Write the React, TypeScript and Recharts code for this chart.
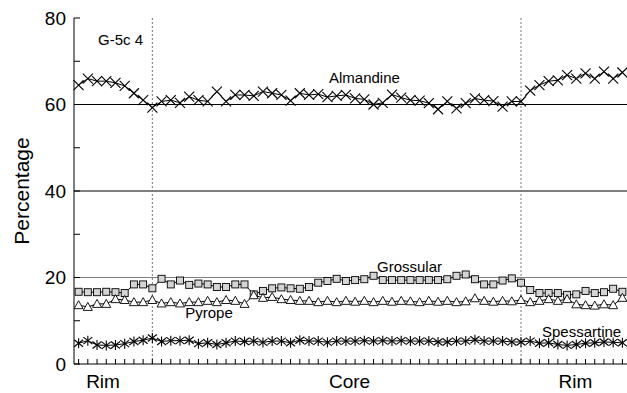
import React from 'react'
import { LineChart, Line, XAxis, YAxis, ReferenceLine } from 'recharts'

// garnet zoning profile, one value per analysis spot (rim -> core -> rim)
const almandine = [
  64.5, 66.0, 65.4, 65.4, 65.0, 64.3, 62.6, 61.0, 59.3, 60.7,
  61.0, 60.4, 61.8, 61.0, 60.7, 63.0, 60.7, 62.2, 62.2, 62.0,
  63.0, 62.6, 62.2, 60.9, 62.6, 62.2, 62.4, 61.7, 62.0, 62.2,
  61.4, 61.2, 60.0, 60.4, 62.3, 61.6, 61.0, 60.9, 60.3, 58.9,
  60.7, 59.1, 60.3, 61.4, 61.0, 60.8, 59.5, 60.7, 60.7, 63.2,
  64.5, 65.4, 65.6, 66.8, 66.0, 67.2, 66.0, 67.6, 66.0, 67.4,
]
const grossular = [
  16.7, 16.6, 16.6, 16.7, 16.6, 16.4, 18.4, 18.4, 17.5, 19.7,
  18.4, 19.3, 18.3, 18.6, 18.4, 17.8, 17.8, 18.4, 18.4, 16.1,
  16.9, 17.5, 17.7, 17.5, 17.4, 17.8, 18.8, 19.2, 19.7, 19.2,
  19.4, 19.6, 20.4, 19.4, 19.4, 19.4, 19.4, 19.4, 19.4, 19.4,
  19.6, 20.4, 20.7, 19.6, 18.4, 18.4, 19.3, 19.8, 18.8, 17.1,
  16.4, 16.4, 16.4, 16.0, 16.1, 16.9, 16.4, 16.6, 17.4, 16.7,
]
const pyrope = [
  13.6, 13.2, 13.9, 13.9, 15.0, 14.8, 14.3, 14.3, 14.8, 14.0,
  14.3, 14.0, 14.3, 14.3, 14.6, 14.3, 14.8, 14.6, 13.9, 15.9,
  15.3, 15.5, 15.0, 14.8, 14.6, 14.6, 14.3, 14.6, 14.3, 14.6,
  14.4, 14.6, 14.3, 14.6, 14.4, 14.6, 14.5, 14.3, 14.6, 14.4,
  14.6, 14.3, 14.5, 15.2, 14.6, 14.4, 14.6, 14.5, 14.8, 14.3,
  14.6, 15.0, 14.6, 15.0, 13.8, 13.6, 13.5, 13.8, 13.6, 15.3,
]
const spessartine = [
  4.8, 5.4, 4.4, 4.3, 4.4, 4.7, 5.2, 5.5, 6.0, 5.2,
  5.4, 5.4, 5.5, 4.7, 4.9, 4.5, 4.9, 5.3, 5.2, 5.3,
  5.0, 5.3, 5.3, 4.9, 5.5, 5.3, 5.3, 5.0, 5.3, 5.3,
  5.3, 5.4, 5.3, 5.4, 5.3, 5.4, 5.3, 5.3, 5.3, 5.1,
  5.1, 5.3, 5.3, 5.6, 5.3, 5.3, 5.3, 5.1, 5.1, 5.3,
  4.8, 4.9, 4.5, 4.3, 4.5, 4.8, 4.9, 5.1, 5.0, 4.9,
]

const yTicks = [0, 10, 20, 30, 40, 50, 60, 70, 80]
const yLabelTicks = [0, 20, 40, 60, 80]
const gridLevels = [20, 40, 60]
const zoneBounds = [8, 48]
const zoneLabels = ['Rim', 'Core', 'Rim']
const zoneLabelAt = [2.65, 29.4, 53.9]

const data = almandine.map((a, i) => ({
  step: i,
  almandine: a,
  grossular: grossular[i],
  pyrope: pyrope[i],
  spessartine: spessartine[i],
}))
const xTicks = [...data.map((d) => d.step), ...zoneLabelAt]

const FONT = '"Liberation Sans", Arial, Helvetica, sans-serif'

const XTick = ({ x, y, payload }: any) => {
  const zi = zoneLabelAt.indexOf(payload.value)
  if (zi >= 0) {
    return (
      <text x={x} y={y + 24} textAnchor="middle" fontSize={19} fontFamily={FONT} fill="#000">
        {zoneLabels[zi]}
      </text>
    )
  }
  return <line x1={x} x2={x} y1={y} y2={y - 5} stroke="#000" strokeWidth={1} />
}

const YTick = ({ x, y, payload }: any) => (
  <g>
    <line x1={x} x2={x + 6} y1={y} y2={y} stroke="#000" strokeWidth={1} />
    {yLabelTicks.includes(payload.value) && (
      <text x={x - 8} y={y} dy="0.36em" textAnchor="end" fontSize={19} fontFamily={FONT} fill="#000">
        {payload.value}
      </text>
    )}
  </g>
)

const CrossDot = ({ cx, cy, index }: any) => (
  <g key={`alm-${index}`}>
    <line x1={cx - 5} y1={cy - 5} x2={cx + 5} y2={cy + 5} stroke="#000" strokeWidth={1.1} />
    <line x1={cx - 5} y1={cy + 5} x2={cx + 5} y2={cy - 5} stroke="#000" strokeWidth={1.1} />
  </g>
)

const SquareDot = ({ cx, cy, index }: any) => (
  <rect key={`gro-${index}`} x={cx - 3.5} y={cy - 3.5} width={7} height={7} fill="#d4d4d4" stroke="#000" strokeWidth={0.9} />
)

const TriangleDot = ({ cx, cy, index }: any) => (
  <path
    key={`pyr-${index}`}
    d={`M${cx},${cy - 4.5} L${cx + 4.5},${cy + 3.5} L${cx - 4.5},${cy + 3.5} Z`}
    fill="#fff"
    stroke="#000"
    strokeWidth={0.9}
  />
)

const StarDot = ({ cx, cy, index }: any) => (
  <g key={`spe-${index}`} stroke="#000" strokeWidth={1.1}>
    <line x1={cx - 4.5} y1={cy - 3.5} x2={cx + 4.5} y2={cy + 3.5} />
    <line x1={cx - 4.5} y1={cy + 3.5} x2={cx + 4.5} y2={cy - 3.5} />
    <line x1={cx} y1={cy - 5} x2={cx} y2={cy + 5} />
  </g>
)

export default function App() {
  return (
    <div style={{ position: 'relative', width: 627, height: 393, background: '#fff' }}>
      <style>{'body{margin:0}'}</style>
      <LineChart width={627} height={393} data={data} margin={{ top: 18, right: 0, bottom: 0, left: 0 }}>
        <XAxis
          dataKey="step"
          type="number"
          domain={[-0.5, 59.5]}
          ticks={xTicks}
          interval={0}
          height={29}
          tickSize={0}
          tickMargin={0}
          tick={<XTick />}
          axisLine={{ stroke: '#000', strokeWidth: 1 }}
          tickLine={false}
        />
        <YAxis
          type="number"
          domain={[0, 80]}
          ticks={yTicks}
          interval={0}
          width={74}
          tickSize={0}
          tickMargin={0}
          tick={<YTick />}
          axisLine={{ stroke: '#000', strokeWidth: 1 }}
          tickLine={false}
        />
        {gridLevels.map((g) => (
          <ReferenceLine key={`g-${g}`} y={g} stroke={g === 20 ? '#808080' : '#000'} strokeWidth={1} />
        ))}
        {zoneBounds.map((b) => (
          <ReferenceLine key={`z-${b}`} x={b} stroke="#777" strokeWidth={1} strokeDasharray="2 2" />
        ))}
        <Line dataKey="almandine" stroke="#000" strokeWidth={1} dot={(p: any) => <CrossDot {...p} key={`a${p.index}`} />} isAnimationActive={false} />
        <Line dataKey="grossular" stroke="#000" strokeWidth={1} dot={(p: any) => <SquareDot {...p} key={`g${p.index}`} />} isAnimationActive={false} />
        <Line dataKey="pyrope" stroke="#000" strokeWidth={1} dot={(p: any) => <TriangleDot {...p} key={`p${p.index}`} />} isAnimationActive={false} />
        <Line dataKey="spessartine" stroke="#000" strokeWidth={1} dot={(p: any) => <StarDot {...p} key={`s${p.index}`} />} isAnimationActive={false} />
      </LineChart>
      <svg
        width={627}
        height={393}
        style={{ position: 'absolute', left: 0, top: 0, pointerEvents: 'none' }}
        fontFamily={FONT}
        fill="#000"
      >
        <text x={22} y={191} transform="rotate(-90 22 191)" textAnchor="middle" dy="0.35em" fontSize={21}>
          Percentage
        </text>
        <text x={98} y={45} fontSize={15}>G-5c 4</text>
        <text x={329} y={83} fontSize={15}>Almandine</text>
        <text x={377} y={272} fontSize={15}>Grossular</text>
        <text x={209} y={318} fontSize={15} textAnchor="middle">Pyrope</text>
        <text x={542} y={337} fontSize={15}>Spessartine</text>
      </svg>
    </div>
  )
}
